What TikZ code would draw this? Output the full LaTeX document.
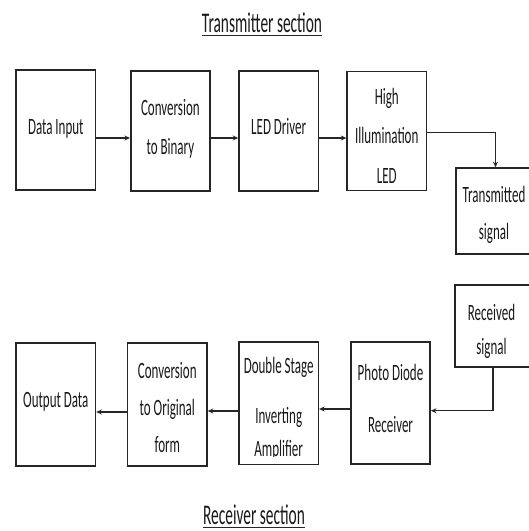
\documentclass[tikz,border=0pt]{standalone}
\usepackage{fontspec}
\setmainfont{Carlito}
\usepackage{graphicx}
\usetikzlibrary{arrows.meta}
\newcommand{\ml}[1]{\scalebox{1}[1.8]{\begin{tabular}{@{}c@{}}#1\end{tabular}}}
\newcommand{\tl}[1]{\scalebox{1}[1.85]{#1}}
\begin{document}
\begin{tikzpicture}[x=1pt,y=-1pt,
  box/.style={draw=black!85, line width=1.6pt, inner sep=0pt, minimum width=79.3pt},
  txt/.style={inner sep=0pt, text=black!90, font=\fontsize{13}{21.7}\selectfont},
  arr/.style={draw=black!85, line width=1.3pt, -{Stealth[length=5.5pt,width=5pt]}},
  ttl/.style={inner sep=0pt, text=black!90, font=\fontsize{15.4}{18}\selectfont, anchor=base},
  uline/.style={draw=black!85, line width=1.6pt}]
\useasboundingbox (0,0) rectangle (529,531);
\clip (0,0) rectangle (529,531);

% titles
\node[ttl] (ttop) at (262,32) {\tl{Transmitter section}};
\draw[uline] ([yshift=-3.5pt]ttop.base west) -- ([yshift=-3.5pt]ttop.base east);
\node[ttl] (tbot) at (254,524) {\tl{Receiver section}};
\draw[uline] ([yshift=-3.5pt]tbot.base west) -- ([yshift=-3.5pt]tbot.base east);

% transmitter row
\node[box, minimum height=120pt] (din) at (55.8,130) {};
\node[box, minimum height=120pt] (bin) at (170.4,131) {};
\node[box, minimum height=120pt] (drv) at (278.7,131) {};
\node[box, minimum height=119pt] (led) at (386.8,131) {};
\node[box, minimum height=86pt] (tx) at (495.5,211) {};

\node[txt] (tdin) at (55.8,126.5) {\ml{Data Input}};
\node[txt] (tbin) at (170.4,127.5) {\ml{Conversion\\to Binary}};
\node[txt] (tdrv) at (278.7,126.5) {\ml{LED Driver}};
\node[txt, font=\fontsize{13}{22.2}\selectfont] (tled) at (386.8,136) {\ml{High\\Illumination\\LED}};
\node[txt, font=\fontsize{13}{20.6}\selectfont] (ttx) at (494,213.5) {\ml{Transmitted\\signal}};

% receiver row
\node[box, minimum height=81.5pt] (rx) at (494.5,326) {};
\node[box, minimum height=123pt] (out) at (55.8,404.5) {};
\node[box, minimum height=123pt] (orig) at (167.3,404.5) {};
\node[box, minimum height=122.5pt] (amp) at (278.7,403.2) {};
\node[box, minimum height=122pt] (pd) at (390.5,403) {};

\node[txt, font=\fontsize{13}{19.4}\selectfont] (trx) at (491.5,330.5) {\ml{Received\\signal}};
\node[txt] (tout) at (55.8,400) {\ml{Output Data}};
\node[txt, font=\fontsize{13}{20.8}\selectfont] (torig) at (167.3,408) {\ml{Conversion\\to Original\\form}};
\begin{scope}
  \clip (240,343) rectangle (317.5,456);
  \node[txt, font=\fontsize{13}{18.3}\selectfont] (tamp) at (278.7,408.4) {\ml{Double Stage\\[9.4pt]Inverting\\Amplifier}};
\end{scope}
\node[txt, font=\fontsize{13}{28.9}\selectfont] (tpd) at (390.5,396) {\ml{Photo Diode\\Receiver}};

% connectors
\draw[arr] ([yshift=-8pt]din.east) -- ([yshift=-8pt]din.east -| bin.west);
\draw[arr] ([yshift=-7pt]bin.east) -- ([yshift=-7pt]bin.east -| drv.west);
\draw[arr] ([yshift=-7pt]drv.east) -- ([yshift=-7pt]drv.east -| led.west);
\draw[arr] ([yshift=-1.6pt]led.east) -| (tx.north);
\draw[arr] ([xshift=-1.5pt]rx.south) |- ([yshift=-7.7pt]pd.east);
\draw[arr] ([yshift=-6pt]pd.west) -- ([yshift=-6pt]pd.west -| amp.east);
\draw[arr] ([yshift=-7.8pt]amp.west) -- ([yshift=-7.8pt]amp.west -| orig.east);
\draw[arr] ([yshift=-7.5pt]orig.west) -- ([yshift=-7.5pt]orig.west -| out.east);
\end{tikzpicture}
\end{document}
